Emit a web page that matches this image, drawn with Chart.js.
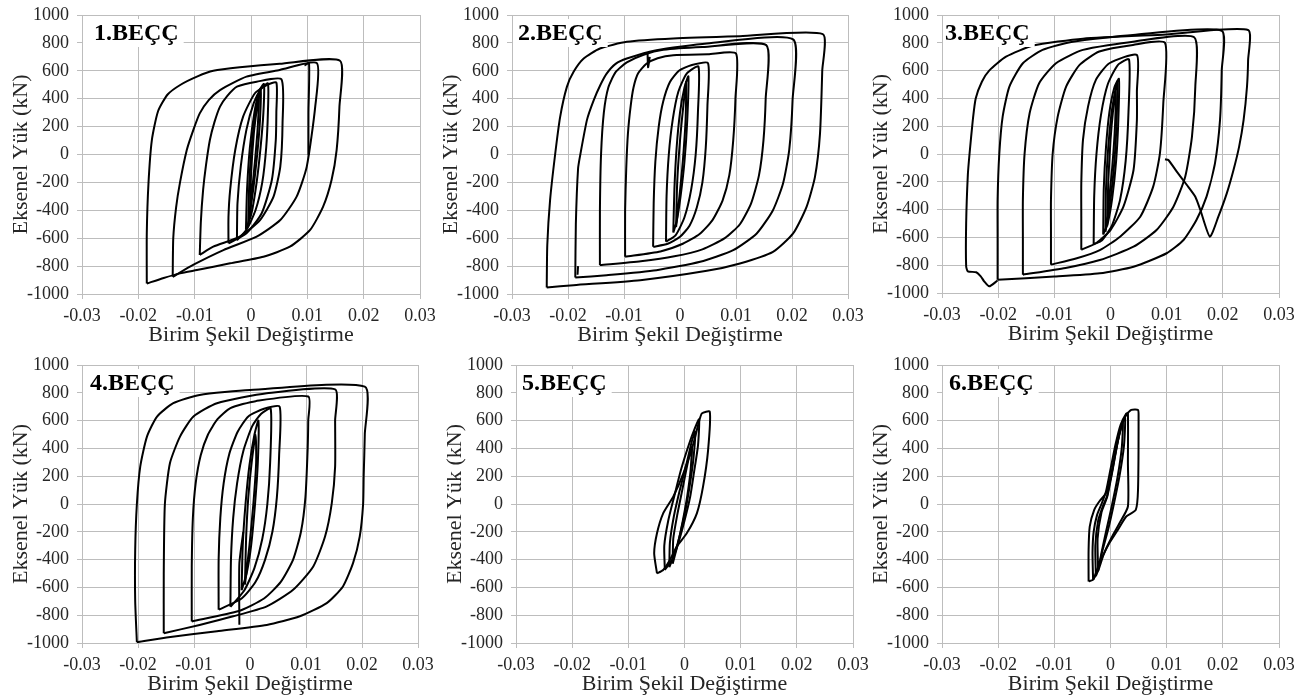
<!DOCTYPE html>
<html>
<head>
<meta charset="utf-8">
<title>BEÇÇ eksenel yük - birim şekil değiştirme</title>
<script src="https://cdn.jsdelivr.net/npm/chart.js@4.4.1/dist/chart.umd.min.js"></script>
<style>
  body { margin: 0; background: #fff; }
  #wrap { position: relative; width: 1306px; height: 700px; overflow: hidden; background: #fff; }
  #wrap canvas { position: absolute; }
</style>
</head>
<body>
<div id="wrap">
  <canvas id="chart1"></canvas>
  <canvas id="chart2"></canvas>
  <canvas id="chart3"></canvas>
  <canvas id="chart4"></canvas>
  <canvas id="chart5"></canvas>
  <canvas id="chart6"></canvas>
</div>
<script>
// eksen etiketleri ve tick degerleri
var xTitle = "Birim Şekil Değiştirme";
var yTitle = "Eksenel Yük (kN)";
var panelNames = ["1.BEÇÇ", "2.BEÇÇ", "3.BEÇÇ", "4.BEÇÇ", "5.BEÇÇ", "6.BEÇÇ"];
var strainTicks = [-0.03, -0.02, -0.01, 0, 0.01, 0.02, 0.03];
var loadTicks = [-1000, -800, -600, -400, -200, 0, 200, 400, 600, 800, 1000];

// [birim sekil degistirme, yuk kN] - grafikten okunan cevrimler
// 1.BECC
var p1L1 = [[-0.0185,-925],[-0.0185,-566],[-0.0182,-208],[-0.0176,103],[-0.0165,310],[-0.0148,430],[-0.0125,500],[-0.0095,560],[-0.0067,600],[-0.002,625],[0.0051,650],[0.0158,672],
            [0.0157,343],[0.0152,32],[0.0143,-183],[0.0128,-374],[0.0105,-541],[0.0069,-661],[0.0022,-733],[-0.0037,-780],[-0.0096,-828],[-0.0126,-852],[-0.0155,-885],[-0.0185,-925]];
var p1L2 = [[-0.0139,-877],[-0.0138,-600],[-0.0133,-380],[-0.0126,-200],[-0.0114,32],[-0.0102,180],[-0.0091,295],[-0.0075,390],[-0.0055,462],[-0.0008,558],[0.0051,606],[0.0117,655],
            [0.0114,343],[0.0099,-87],[0.0081,-302],[0.0052,-470],[0.001,-589],[-0.0049,-685],[-0.0102,-790],[-0.0139,-877]];
var p1L3 = [[-0.0091,-720],[-0.0089,-480],[-0.0085,-254],[-0.008,-80],[-0.0073,104],[-0.0065,230],[-0.0055,343],[-0.0042,420],[-0.0025,486],[0.001,522],[0.0054,539],
            [0.0056,224],[0.0052,-87],[0.004,-302],[0.0016,-470],[-0.002,-589],[-0.0067,-661],[-0.0091,-720]];
var p1L4 = [[-0.004,-637],[-0.004,-450],[-0.0037,-254],[-0.0028,32],[-0.0014,271],[0.0007,439],[0.0028,498],[0.0045,515],
            [0.0045,300],[0.0044,104],[0.0037,-183],[0.0019,-421],[-0.0008,-565],[-0.004,-637]];
var p1L5 = [[-0.0025,-615],[-0.0024,-350],[-0.0018,-80],[-0.0008,180],[0.0005,370],[0.0018,470],[0.003,510],
            [0.003,300],[0.0027,50],[0.002,-200],[0.0008,-400],[-0.0008,-540],[-0.0025,-615]];
var p1C1 = [[-0.0009,-540],[-0.0007,-250],[-0.0002,50],[0.0006,300],[0.0015,460],[0.0023,505],[0.0022,300],[0.0017,50],[0.001,-200],[0.0001,-420],[-0.0009,-540]];
var p1C2 = [[-0.0005,-500],[-0.0003,-200],[0.0002,100],[0.0009,320],[0.0017,470],[0.0016,250],[0.0011,0],[0.0004,-250],[-0.0005,-500]];
var p1C3 = [[-0.0002,-460],[0,-150],[0.0005,150],[0.0011,350],[0.0014,430],[0.0012,200],[0.0007,-50],[0.0001,-300],[-0.0002,-460]];
var p1End = [[0.0095,638],[0.0103,654],[0.0102,300],[0.0102,-3]];

// 2.BECC
var p2L1 = [[-0.0238,-953],[-0.0237,-650],[-0.0232,-327],[-0.0223,0],[-0.0214,270],[-0.0202,485],[-0.019,593],[-0.0172,688],[-0.0143,760],[-0.0095,808],[-0.0012,832],[0.0107,848],[0.0255,863],
            [0.0254,600],[0.025,150],[0.0241,-160],[0.0226,-375],[0.0202,-566],[0.0166,-698],[0.0107,-781],[0.0048,-834],[-0.0071,-901],[-0.019,-937],[-0.0238,-953]];
var p2L2 = [[-0.0187,-882],[-0.0186,-500],[-0.0182,-100],[-0.0178,0],[-0.0166,250],[-0.0154,390],[-0.0142,500],[-0.0131,580],[-0.0115,650],[-0.0095,688],[-0.0042,748],[0.0048,796],[0.0202,825],
            [0.0201,390],[0.0195,31],[0.0184,-208],[0.0166,-399],[0.0137,-566],[0.0095,-686],[0.0036,-769],[-0.0042,-829],[-0.0131,-865],[-0.0187,-882]];
var p2L3 = [[-0.0143,-793],[-0.0143,-400],[-0.0141,0],[-0.0136,300],[-0.0128,480],[-0.0115,590],[-0.0095,660],[-0.0065,715],[-0.003,750],[0.004,770],[0.0154,784],
            [0.0153,400],[0.0149,100],[0.0141,-150],[0.0127,-350],[0.0107,-500],[0.008,-600],[0.004,-680],[-0.001,-730],[-0.007,-765],[-0.0143,-793]];
var p2L4 = [[-0.0098,-733],[-0.0098,-400],[-0.0096,-100],[-0.0093,150],[-0.0088,350],[-0.0083,480],[-0.0075,580],[-0.006,650],[-0.004,690],[-0.0012,712],[0.005,718],[0.01,724],
            [0.0099,400],[0.0095,100],[0.0088,-150],[0.0076,-330],[0.0058,-470],[0.0035,-570],[0.0005,-640],[-0.0035,-695],[-0.0098,-733]];
var p2L5 = [[-0.0048,-662],[-0.0047,-350],[-0.0044,-50],[-0.0038,200],[-0.003,380],[-0.0018,520],[-0.0002,600],[0.002,640],[0.005,655],
            [0.0049,350],[0.0046,50],[0.004,-200],[0.003,-380],[0.0017,-510],[0,-590],[-0.0022,-640],[-0.0048,-662]];
var p2L6 = [[-0.0025,-625],[-0.0024,-300],[-0.002,0],[-0.0013,250],[-0.0003,450],[0.0012,580],[0.0033,630],[0.0032,300],[0.0028,0],[0.002,-250],[0.0008,-450],[-0.0008,-580],[-0.0025,-625]];
var p2C1 = [[-0.0012,-560],[-0.001,-250],[-0.0006,50],[0,300],[0.0008,480],[0.0015,560],[0.0013,250],[0.0008,-50],[0.0001,-300],[-0.0006,-480],[-0.0012,-560]];
var p2C2 = [[-0.0007,-520],[-0.0005,-200],[0,100],[0.0006,350],[0.0011,520],[0.001,250],[0.0005,-50],[-0.0001,-300],[-0.0007,-520]];
var p2G1 = [[-0.0058,735],[-0.0057,625],[-0.0054,700]];
var p2G2 = [[-0.0182,-800],[-0.0183,-862]];

// 3.BECC
var p3L1 = [[-0.0201,-910],[-0.0216,-952],[-0.0225,-916],[-0.0231,-880],[-0.0239,-851],[-0.0254,-844],[-0.0257,-808],[-0.0257,-500],[-0.0254,-150],[-0.0251,0],[-0.0245,250],[-0.024,400],[-0.0229,520],[-0.0216,600],[-0.0186,700],[-0.0138,780],[-0.0049,830],[0.0099,860],[0.0245,892],
            [0.0245,676],[0.0243,484],[0.0237,245],[0.0229,53],[0.0219,-115],[0.0207,-283],[0.0192,-451],[0.0177,-595],
            [0.016,-403],[0.0151,-307],[0.0136,-223],[0.0118,-127],[0.0103,-43],[0.0097,-38]];
var p3L2 = [[-0.0201,-905],[-0.0201,-600],[-0.0201,-329],[-0.0198,0],[-0.0192,269],[-0.018,485],[-0.0156,653],[-0.0121,749],[-0.0067,808],[0.004,856],[0.0198,887],
            [0.0198,600],[0.0195,245],[0.0186,-67],[0.0171,-307],[0.0153,-475],[0.013,-619],[0.01,-714],[0.0041,-811],[-0.0019,-858],[-0.01,-882],[-0.0201,-905]];
var p3L3 = [[-0.0156,-868],[-0.0156,-600],[-0.0156,-330],[-0.0153,0],[-0.0144,293],[-0.0127,509],[-0.0097,653],[-0.0049,749],[0.004,808],[0.0149,840],
            [0.0151,484],[0.0145,124],[0.0133,-163],[0.0112,-379],[0.0082,-547],[0.0041,-667],[-0.0019,-763],[-0.008,-820],[-0.0156,-868]];
var p3L4 = [[-0.0106,-796],[-0.0106,-550],[-0.0106,-330],[-0.0103,0],[-0.0094,269],[-0.0079,485],[-0.0055,641],[-0.002,737],[0.004,785],[0.0097,800],
            [0.0094,365],[0.0088,5],[0.0076,-235],[0.0053,-451],[0.0017,-595],[-0.0019,-691],[-0.006,-750],[-0.0106,-796]];
var p3L5 = [[-0.0052,-689],[-0.0052,-450],[-0.0052,-210],[-0.0049,102],[-0.004,341],[-0.0026,533],[-0.0002,653],[0.0047,712],
            [0.0047,450],[0.0047,245],[0.0041,-115],[0.0023,-379],[0,-547],[-0.0025,-640],[-0.0052,-689]];
var p3L6 = [[-0.003,-650],[-0.0029,-300],[-0.0025,0],[-0.0017,280],[-0.0005,500],[0.0013,640],[0.0033,680],[0.0032,300],[0.0027,-50],[0.0017,-330],[0.0002,-520],[-0.0015,-620],[-0.003,-650]];
var p3C1 = [[-0.0013,-580],[-0.0012,-250],[-0.0008,50],[-0.0002,300],[0.0007,480],[0.0015,540],[0.0014,250],[0.001,-50],[0.0003,-320],[-0.0005,-500],[-0.0013,-580]];
var p3C2 = [[-0.0009,-560],[-0.0008,-250],[-0.0004,50],[0.0002,300],[0.0009,470],[0.0012,520],[0.0011,250],[0.0007,-50],[0,-330],[-0.0009,-560]];
var p3C3 = [[-0.0006,-520],[-0.0004,-200],[0,100],[0.0005,330],[0.0009,450],[0.0008,200],[0.0003,-100],[-0.0003,-350],[-0.0006,-520]];

// 4.BECC
var p4L1 = [[-0.0202,-995],[-0.0205,-700],[-0.0205,-329],[-0.0202,0],[-0.0196,269],[-0.0184,485],[-0.0166,629],[-0.0137,725],[-0.009,784],[0,820],[0.0205,844],
            [0.0205,500],[0.0203,200],[0.0202,0],[0.0196,-233],[0.0184,-425],[0.0166,-593],[0.0137,-713],[0.0089,-808],[0.003,-870],[-0.0059,-915],[-0.0149,-960],[-0.0202,-995]];
var p4L2 = [[-0.0154,-930],[-0.0154,-500],[-0.0152,0],[-0.0143,293],[-0.0125,485],[-0.0101,629],[-0.0059,725],[0.003,797],[0.0152,825],
            [0.0152,600],[0.0152,269],[0.0146,5],[0.0134,-234],[0.0113,-449],[0.0077,-617],[0.003,-736],[-0.003,-808],[-0.009,-870],[-0.0154,-930]];
var p4L3 = [[-0.0104,-845],[-0.0104,-450],[-0.0102,-100],[-0.0097,150],[-0.0088,350],[-0.0075,500],[-0.0058,610],[-0.0035,690],[0.001,740],[0.0104,773],
            [0.0104,600],[0.0103,400],[0.0099,50],[0.0091,-200],[0.0077,-400],[0.0055,-560],[0.0025,-680],[-0.002,-770],[-0.0104,-845]];
var p4L4 = [[-0.0056,-760],[-0.0056,-400],[-0.0053,-100],[-0.0047,150],[-0.0037,360],[-0.0022,520],[-0.0003,630],[0.0025,685],[0.0053,700],
            [0.0052,350],[0.0048,50],[0.004,-200],[0.0027,-400],[0.001,-560],[-0.0015,-680],[-0.0056,-760]];
var p4L5 = [[-0.0035,-740],[-0.0034,-400],[-0.003,-100],[-0.0023,150],[-0.0012,380],[0.0004,560],[0.002,650],[0.0037,685],[0.0036,300],[0.0031,0],[0.0022,-250],[0.0008,-460],[-0.001,-620],[-0.0035,-740]];
var p4C1 = [[-0.0015,-620],[-0.0013,-300],[-0.0008,0],[-0.0001,280],[0.0008,500],[0.0015,600],[0.0014,300],[0.0009,0],[0.0002,-300],[-0.0006,-500],[-0.0015,-620]];
var p4C2 = [[-0.0009,-580],[-0.0007,-250],[-0.0003,50],[0.0003,300],[0.001,500],[0.0011,300],[0.0006,0],[-0.0001,-300],[-0.0009,-580]];
var p4Drop = [[-0.0012,-200],[-0.0019,-430],[-0.0019,-868]];

// 5.BECC
var p5L1 = [[-0.0049,-499],[-0.0054,-355],[-0.0049,-211],[-0.0038,-67],[-0.002,53],[-0.0002,221],[0.0016,437],[0.0025,580],[0.0031,652],[0.0045,664],
            [0.0042,388],[0.0033,125],[0.0022,-67],[0.0004,-211],[-0.0014,-307],[-0.0026,-403],[-0.0038,-475],[-0.0049,-499]];
var p5L2 = [[-0.0035,-475],[-0.0036,-300],[-0.0029,-120],[-0.0018,60],[-0.0006,250],[0.0008,430],[0.0018,540],[0.0026,610],[0.0024,420],[0.0017,230],[0.001,50],[0,-120],[-0.0011,-280],[-0.0022,-400],[-0.0035,-475]];
var p5L3 = [[-0.0027,-455],[-0.0026,-280],[-0.0019,-90],[-0.0009,90],[0.0003,280],[0.0013,450],[0.0019,520],[0.0016,330],[0.001,150],[0.0002,-40],[-0.0008,-220],[-0.0017,-350],[-0.0027,-455]];
var p5L4 = [[-0.0021,-430],[-0.002,-250],[-0.0013,-80],[-0.0004,100],[0.0006,300],[0.0013,410],[0.0011,250],[0.0005,60],[-0.0003,-120],[-0.0012,-290],[-0.0021,-430]];

// 6.BECC
var p6L1 = [[-0.0039,-557],[-0.0039,-329],[-0.0037,-162],[-0.0029,-42],[-0.002,18],[-0.0008,78],[0.0001,198],[0.001,389],[0.0019,557],[0.0028,641],[0.0037,677],[0.0049,677],
            [0.005,629],[0.0049,102],[0.0045,-42],[0.0028,-90],[0.0013,-186],[-0.0002,-281],[-0.0014,-377],[-0.0024,-473],[-0.0031,-545],[-0.0039,-557]];
var p6L2 = [[-0.0031,-545],[-0.0032,-350],[-0.003,-200],[-0.0024,-80],[-0.0016,0],[-0.0008,90],[0,250],[0.0009,430],[0.0018,570],[0.0028,650],[0.0031,655],
            [0.0031,300],[0.0031,-18],[0.0016,-138],[0.0002,-240],[-0.0012,-360],[-0.0022,-480],[-0.0031,-545]];
var p6L3 = [[-0.0026,-520],[-0.0027,-300],[-0.0022,-120],[-0.0014,-20],[-0.0006,60],[0.0002,230],[0.0011,420],[0.002,570],[0.0026,620],[0.0024,420],[0.0016,200],[0.0006,0],[-0.0004,-180],[-0.0014,-330],[-0.002,-440],[-0.0026,-520]];
var p6L4 = [[-0.0022,-480],[-0.0023,-250],[-0.0016,-60],[-0.0006,50],[0.0004,250],[0.0013,450],[0.0022,590],[0.002,400],[0.0012,180],[0.0002,-20],[-0.0008,-200],[-0.0016,-350],[-0.0022,-480]];

// panel yerlesimi: grafik alani [sol, sag, ust, alt] piksel
var panels = [
  { id: "chart1", loops: [p1L1, p1L2, p1L3, p1L4, p1L5, p1C1, p1C2, p1C3, p1End], area: [82, 420, 15, 294], dx: 12 },
  { id: "chart2", loops: [p2L1, p2L2, p2L3, p2L4, p2L5, p2L6, p2C1, p2C2, p2G1, p2G2], area: [512, 848, 15, 294], dx: 6 },
  { id: "chart3", loops: [p3L1, p3L2, p3L3, p3L4, p3L5, p3L6, p3C1, p3C2, p3C3], area: [942, 1279, 15, 293], dx: 3 },
  { id: "chart4", loops: [p4L1, p4L2, p4L3, p4L4, p4L5, p4C1, p4C2, p4Drop], area: [82, 418, 365, 643], dx: 8 },
  { id: "chart5", loops: [p5L1, p5L2, p5L3, p5L4], area: [516, 853, 365, 643], dx: 6 },
  { id: "chart6", loops: [p6L1, p6L2, p6L3, p6L4], area: [942, 1279, 365, 643], dx: 7 }
];

var serif = "'Liberation Serif', 'Times New Roman', serif";
var gridColor = "#bdbdbd";
var textColor = "#262626";
var padTop = 24;

// sol ustteki "n.BECC" yazisi, beyaz kutu ile
function nameLabel(text, dx) {
  return {
    id: "nameLabel",
    afterDatasetsDraw: function(chart) {
      var ctx = chart.ctx, a = chart.chartArea;
      ctx.save();
      ctx.font = "bold 24px " + serif;
      var w = ctx.measureText(text).width;
      ctx.fillStyle = "#fff";
      ctx.fillRect(a.left + 1, a.top + 4, dx + w + 4, 28);
      ctx.fillStyle = "#000";
      ctx.textBaseline = "middle";
      ctx.fillText(text, a.left + dx, a.top + 19);
      ctx.restore();
    }
  };
}

panels.forEach(function(p, i) {
  var L = p.area[0], R = p.area[1], T = p.area[2], B = p.area[3];
  var cv = document.getElementById(p.id);
  cv.width = R - L + 120;
  cv.height = B - T + padTop + 60;
  cv.style.left = (L - 90) + "px";
  cv.style.top = (T - padTop) + "px";

  new Chart(cv, {
    "type": "scatter",
    "data": {
      "datasets": p.loops.map(function(loop) {
        return {
          "data": loop.map(function(pt) { return { x: pt[0], y: pt[1] }; }),
          "showLine": true,
          "borderColor": "#000",
          "borderWidth": 2,
          "pointRadius": 0,
          "tension": 0.2,
          "fill": false
        };
      })
    },
    "options": {
      "responsive": false,
      "animation": false,
      "devicePixelRatio": 1,
      "events": [],
      "layout": { "padding": { "left": 0, "right": 30, "top": padTop, "bottom": 0 } },
      "plugins": { "legend": { "display": false }, "tooltip": { "enabled": false } },
      "scales": {
        "x": {
          "type": "linear", "min": -0.03, "max": 0.03,
          "afterBuildTicks": function(s) { s.ticks = strainTicks.map(function(v) { return { value: v }; }); },
          "afterFit": function(s) { s.height = 60; },
          "ticks": { "callback": function(v) { return String(v); }, "font": { "family": serif, "size": 18 }, "color": textColor, "padding": 6, "maxRotation": 0, "autoSkip": false },
          "grid": { "color": gridColor, "lineWidth": 1, "tickLength": 5 },
          "border": { "color": gridColor },
          "title": { "display": true, "text": xTitle, "font": { "family": serif, "size": 22 }, "color": textColor, "padding": { "top": 0, "bottom": 6 } }
        },
        "y": {
          "type": "linear", "min": -1000, "max": 1000,
          "afterBuildTicks": function(s) { s.ticks = loadTicks.map(function(v) { return { value: v }; }); },
          "afterFit": function(s) { s.width = 90; },
          "ticks": { "callback": function(v) { return String(v); }, "font": { "family": serif, "size": 18 }, "color": textColor, "padding": 8, "autoSkip": false },
          "grid": { "color": gridColor, "lineWidth": 1, "tickLength": 5 },
          "border": { "color": gridColor },
          "title": { "display": true, "text": yTitle, "font": { "family": serif, "size": 22 }, "color": textColor, "padding": { "top": 16, "bottom": 0 } }
        }
      }
    },
    "plugins": [nameLabel(panelNames[i], p.dx)]
  });
});
</script>
</body>
</html>
